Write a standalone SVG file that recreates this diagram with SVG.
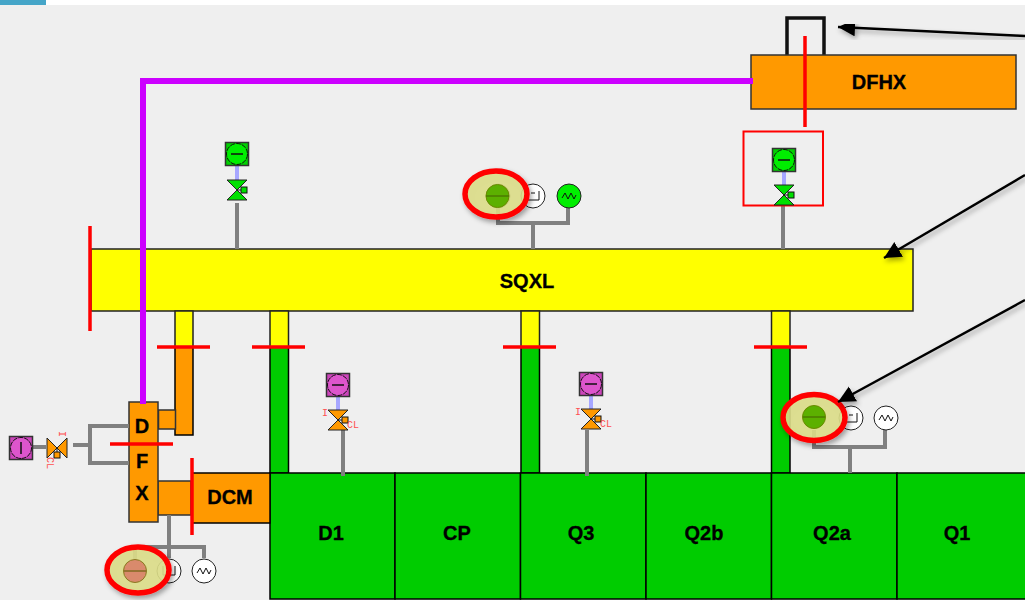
<svg xmlns="http://www.w3.org/2000/svg" width="1025" height="600" viewBox="0 0 1025 600">
<style>
.lbl{font-family:"Liberation Sans",Arial,sans-serif;font-weight:bold;font-size:20px;fill:#000;stroke:#000;stroke-width:.3;text-anchor:middle}
.o{fill:#ff9900;stroke:#333;stroke-width:1.500}
.oo{fill:#ff9900;stroke:#000;stroke-width:1.500}
.g{fill:#00cc00;stroke:#000;stroke-width:1.500}
.y{fill:#ffff00;stroke:#222;stroke-width:1.500}
.pipe{fill:none;stroke:#808080;stroke-width:4}
.blue{stroke:#a6a6ff;stroke-width:4}
.red{stroke:#ff0000;stroke-width:3.500;fill:none}
.mag{stroke:#cc00ff;stroke-width:6;fill:none}
.arrow{stroke:#000;stroke-width:2.500;fill:none;marker-end:url(#head);filter:url(#sh)}
.sm{fill:#fff;stroke:#222;stroke-width:1}
.gl{fill:none;stroke:#111;stroke-width:1}
.tag{font-family:"Liberation Mono",monospace;font-size:10px;fill:#ff5050}
.halo{fill:#dfe08a;fill-opacity:.88;stroke:#ff0000;stroke-width:5.500;filter:url(#sh)}
</style>
<defs>
<filter id="sh" x="-30%" y="-30%" width="170%" height="170%"><feDropShadow dx="2" dy="3" stdDeviation="2.5" flood-color="#000" flood-opacity=".35"/></filter>
<marker id="head" markerUnits="userSpaceOnUse" markerWidth="20" markerHeight="18" refX="17" refY="8.500" orient="auto"><path d="M0 0L17 8.500L0 17z" fill="#000"/></marker>
<g id="gv"><path d="M-10 -10H10L-10 10H10z" fill="#00e000" stroke="#222" stroke-width="1"/><path d="M0 0H4" stroke="#111"/><rect x="4" y="-3" width="6" height="6" fill="#00e000" stroke="#111"/></g>
<g id="ov"><path d="M-10 -10H10L-10 10H10z" fill="#ff9900" stroke="#222" stroke-width="1"/><path d="M0 0H4" stroke="#111"/><rect x="4" y="-3" width="6" height="6" fill="#ff9900" stroke="#111"/></g>
<g id="gact"><rect x="-11.500" y="-11.500" width="23" height="23" fill="#00d000" stroke="#333" stroke-width="1.500"/><circle r="10.500" fill="#00ee00" stroke="#111" stroke-dasharray="5 1"/><path d="M-6 0H6" stroke="#111" stroke-width="1.500"/></g>
<g id="pact"><rect x="-11.500" y="-11.500" width="23" height="23" fill="#cc44bb" stroke="#333" stroke-width="1.500"/><circle r="10.500" fill="#dd55cc" stroke="#111" stroke-dasharray="5 1"/><path d="M-6 0H6" stroke="#111" stroke-width="1.500"/></g>
<g id="wave"><path d="M-7 2L-4 -3L-1 3L2 -3L5 3L7 -1" class="gl"/></g>
<g id="box"><path d="M-6 -5V4H6V-5M-2 -3H2" class="gl"/></g>
</defs>
<rect width="1025" height="600" fill="#efefef"/>
<rect width="1025" height="5" fill="#ffffff"/>
<rect width="46" height="5" fill="#45a5c8"/>

<g id="SQXL"><rect class="y" x="91" y="249" width="822" height="62"/><text class="lbl" x="527" y="288">SQXL</text></g>
<g id="DFHX"><path d="M787 55V18H824V55" fill="none" stroke="#111" stroke-width="3.500"/><rect class="o" x="751" y="55" width="265" height="54"/><text class="lbl" x="879" y="89">DFHX</text></g>

<g id="columns">
<rect class="y" x="175" y="311" width="18" height="36"/><rect class="oo" x="175" y="347" width="18" height="88"/>
<rect class="y" x="270" y="311" width="18.500" height="36"/><rect class="g" x="270" y="347" width="18.500" height="126"/>
<rect class="y" x="521" y="311" width="18.500" height="36"/><rect class="g" x="521" y="347" width="18.500" height="126"/>
<rect class="y" x="771.500" y="311" width="18.500" height="36"/><rect class="g" x="771.500" y="347" width="18.500" height="126"/>
</g>

<g id="D1"><rect class="g" x="270" y="473" width="125" height="126"/><text class="lbl" x="331" y="540">D1</text></g>
<g id="CP"><rect class="g" x="395" y="473" width="125.500" height="126"/><text class="lbl" x="457" y="540">CP</text></g>
<g id="Q3"><rect class="g" x="520.500" y="473" width="125.500" height="126"/><text class="lbl" x="581" y="540">Q3</text></g>
<g id="Q2b"><rect class="g" x="646" y="473" width="125.500" height="126"/><text class="lbl" x="704" y="540">Q2b</text></g>
<g id="Q2a"><rect class="g" x="771.500" y="473" width="125.500" height="126"/><text class="lbl" x="832" y="540">Q2a</text></g>
<g id="Q1"><rect class="g" x="897" y="473" width="129" height="126"/><text class="lbl" x="957" y="540">Q1</text></g>

<g id="DCM"><rect class="o" x="158" y="481" width="33" height="34"/><rect class="oo" x="192" y="473" width="78" height="50"/><text class="lbl" x="230" y="504">DCM</text></g>
<g id="DFX"><rect class="o" x="158.500" y="410" width="17" height="19"/><rect class="o" x="129" y="402" width="29" height="120"/>
<text class="lbl" x="142" y="433">D</text><text class="lbl" x="142" y="468">F</text><text class="lbl" x="142" y="500">X</text></g>

<g id="connectors">
<path class="mag" d="M753 81H143V404"/>
<path class="pipe" d="M237 203V249"/>
<path class="pipe" d="M783 205V249"/>
<path class="pipe" d="M533 249V223M498 208V223H568V208"/>
<path class="pipe" d="M850 473V447M814 430V447H885V430"/>
<path class="pipe" d="M343 430V476"/>
<path class="pipe" d="M587 430V476"/>
<path class="pipe" d="M129 426H90V463H129M90 445H73"/>
<path class="pipe" d="M33 447H46"/>
<path class="pipe" d="M169 515V547M135 559V547H204V558M169 547V558"/>
<path class="blue" d="M237 165V180"/>
<path class="blue" d="M784 172V186"/>
<path class="blue" d="M338 396V410"/>
<path class="blue" d="M591 396V410"/>
</g>

<g id="red-lines">
<path class="red" d="M90 226V331"/>
<path class="red" d="M157 347H210M252 347H305M503 347H556M754 347H807"/>
<path class="red" d="M110 444H173"/>
<path class="red" d="M192 458V535"/>
<path class="red" d="M805 36V127"/>
<rect x="743.500" y="131.500" width="79.500" height="74" fill="none" stroke="#ff0000" stroke-width="2"/>
</g>

<g id="act-1"><use href="#gact" x="237" y="154"/><use href="#gv" x="237" y="190"/></g>
<g id="act-2"><use href="#gact" x="784" y="160"/><use href="#gv" x="784" y="195"/></g>
<g id="act-3"><use href="#pact" x="338" y="385"/><use href="#ov" x="338" y="420"/><text class="tag" x="322" y="416">I</text><text class="tag" x="347" y="428">CL</text></g>
<g id="act-4"><use href="#pact" x="591" y="384"/><use href="#ov" x="591" y="419"/><text class="tag" x="575" y="415">I</text><text class="tag" x="600" y="427">CL</text></g>
<g id="act-5"><g transform="translate(21 448) rotate(90)"><rect x="-11.500" y="-11.500" width="23" height="23" fill="#cc44bb" stroke="#333" stroke-width="1.500"/><circle r="10.500" fill="#dd55cc" stroke="#111" stroke-dasharray="5 1"/><path d="M-6 0H6" stroke="#111" stroke-width="1.500"/></g>
<use href="#ov" transform="translate(57 448) rotate(90)"/>
<text class="tag" transform="translate(59 431) rotate(90)">I</text><text class="tag" transform="translate(47 457) rotate(90)">CL</text></g>

<g id="sensor-top">
<circle class="sm" cx="533" cy="196" r="12"/><use href="#box" x="533" y="196"/>
<circle cx="569" cy="196" r="12" fill="#00ee00" stroke="#222"/><use href="#wave" x="569" y="196"/>
<circle cx="498" cy="196" r="12" fill="#00dd00" stroke="#222"/>
<ellipse class="halo" cx="496" cy="194" rx="31" ry="23"/>
<circle cx="497.500" cy="196" r="11.500" fill="#5cb000" stroke="#6a8a00"/><path d="M486 196H509" stroke="#4c7a00" stroke-width="1.500"/>
</g>
<g id="sensor-right">
<circle class="sm" cx="851" cy="418" r="12"/><use href="#box" x="851" y="418"/>
<circle class="sm" cx="886" cy="418" r="12"/><use href="#wave" x="886" y="418"/>
<ellipse class="halo" cx="814" cy="417.500" rx="31" ry="23"/>
<circle cx="814" cy="417" r="11.500" fill="#5cb000" stroke="#6a8a00"/><path d="M803 417H825" stroke="#4c7a00" stroke-width="1.500"/>
</g>
<g id="sensor-bottom">
<circle class="sm" cx="169" cy="571" r="12"/><use href="#box" x="169" y="571"/>
<circle class="sm" cx="204" cy="571" r="12"/><use href="#wave" x="204" y="571"/>
<ellipse class="halo" cx="138" cy="570" rx="31" ry="23"/>
<circle cx="135" cy="571" r="11.500" fill="#d98a6c" stroke="#8a7a20"/><path d="M124 571H146" stroke="#806a20" stroke-width="1.500"/>
</g>

<g id="callouts">
<path class="arrow" d="M1025 36L838 27"/>
<path class="arrow" d="M1025 175L884 258"/>
<path class="arrow" d="M1025 300L838 402"/>
</g>
</svg>
